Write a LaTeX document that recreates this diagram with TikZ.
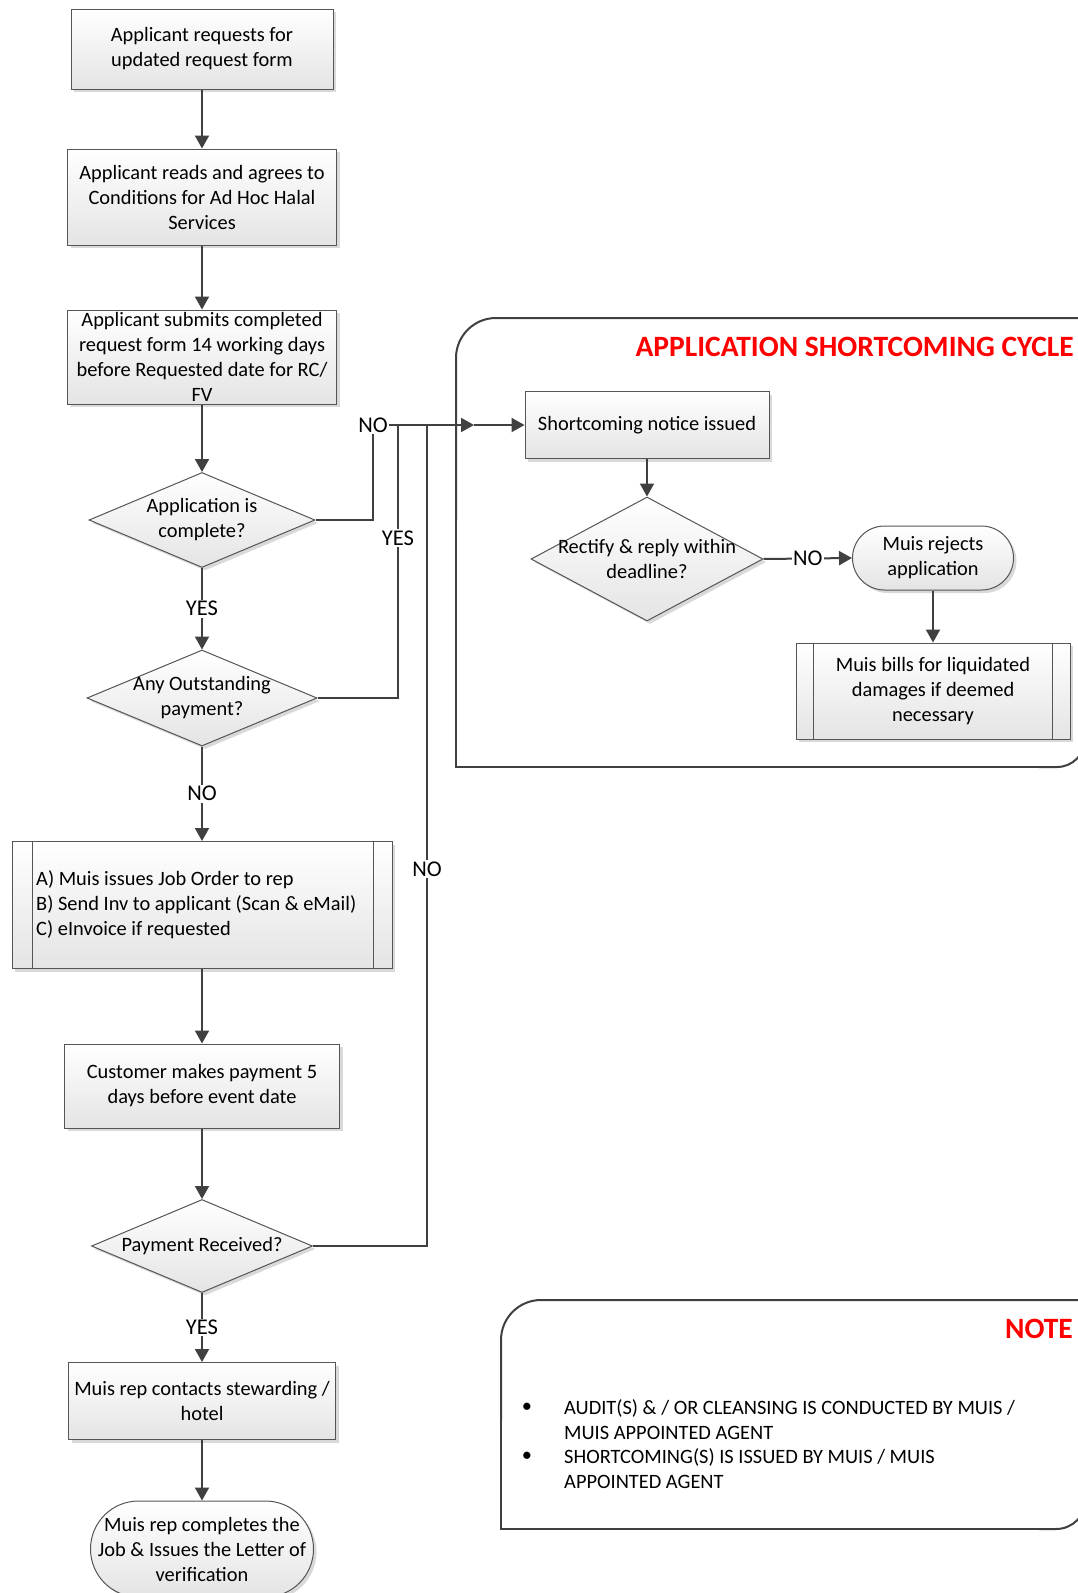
\documentclass[tikz,border=0pt]{standalone}
\usepackage{fontspec}
\setmainfont{Carlito}
\usetikzlibrary{shapes.geometric,shapes.misc,arrows.meta,shadows}
\definecolor{ln}{HTML}{404040}
\definecolor{bd}{HTML}{555555}
\definecolor{fillbot}{HTML}{E4E4E4}
\begin{document}
\begin{tikzpicture}[x=1pt,y=-1pt,
  every node/.style={font=\fontsize{20.4}{25}\selectfont, text=black},
  boxfill/.style={top color=white, bottom color=fillbot, draw=bd, line width=1pt,
     drop shadow={shadow xshift=3pt, shadow yshift=-3pt, fill=black, opacity=0.15}},
  proc/.style={boxfill, rectangle, inner sep=0pt, align=center},
  dia/.style={boxfill, diamond, inner sep=0pt},
  term/.style={boxfill, rounded rectangle, inner sep=0pt},
  flow/.style={draw=ln, line width=2pt, -{Triangle[length=13pt,width=14pt]}},
  conn/.style={draw=ln, line width=2pt},
  lbl/.style={fill=white, inner sep=1.5pt, font=\fontsize{22.5}{26}\selectfont},
  cframe/.style={draw=ln, line width=2pt},
  pline/.style={draw=bd, line width=1pt},
  ttl/.style={font=\fontsize{29.5}{33}\selectfont\bfseries, text=red, inner sep=0pt, anchor=east}
]
\useasboundingbox[fill=white] (0,0) rectangle (1077,1593);

% containers
\draw[cframe, rounded corners=40pt] (1100,318) -- (456,318) -- (456,520);
\draw[cframe] (456,519) -- (456,767) -- (1040,767);
\draw[cframe, rounded corners=28pt] (1039,767) -- (1085,767) -- (1085,600);

\draw[cframe, rounded corners=40pt] (1100,1300) -- (501,1300) -- (501,1420);
\draw[cframe] (501,1419) -- (501,1529) -- (1040,1529);
\draw[cframe, rounded corners=30pt] (1039,1529) -- (1086,1529) -- (1086,1400);

\node[ttl] (title) at (1074,347) {APPLICATION SHORTCOMING CYCLE};
\node[ttl] (notettl) at (1073,1329) {NOTE};

% main column
\node[proc, minimum width=262pt, minimum height=80pt] (b1) at (202,49)
  {Applicant requests for\\updated request form};
\node[proc, minimum width=269pt, minimum height=96pt] (b2) at (202,197)
  {Applicant reads and agrees to\\Conditions for Ad Hoc Halal\\Services};
\node[proc, minimum width=269pt, minimum height=94pt] (b3) at (202,357)
  {Applicant submits completed\\request form 14 working days\\before Requested date for RC/\\FV};
\node[dia, minimum width=226pt, minimum height=95pt,
  label={[name=d1t, align=center]center:{Application is\\complete?}}] (d1) at (202,520) {};
\node[dia, minimum width=230pt, minimum height=96pt,
  label={[name=d2t, align=center]center:{Any Outstanding\\payment?}}] (d2) at (202,698) {};
\node[proc, minimum width=380pt, minimum height=127pt] (b4) at (202,905) {};
\node[anchor=west, align=left, inner sep=0pt] (b4t) at (36,905)
  {A) Muis issues Job Order to rep\\B) Send Inv to applicant (Scan \& eMail)\\C) eInvoice if requested};
\draw[pline] ([xshift=20.5pt]b4.north west) -- ([xshift=20.5pt]b4.south west);
\draw[pline] ([xshift=-19pt]b4.north east) -- ([xshift=-19pt]b4.south east);
\node[proc, minimum width=275pt, minimum height=84pt] (b5) at (202,1086)
  {Customer makes payment 5\\days before event date};
\node[dia, minimum width=221pt, minimum height=93pt,
  label={[name=d3t]center:{Payment Received?}}] (d3) at (202,1246) {};
\node[proc, minimum width=267pt, minimum height=77pt] (b6) at (202,1401)
  {Muis rep contacts stewarding /\\hotel};
\node[term, minimum width=223pt, minimum height=96pt,
  label={[name=tt, align=center]center:{Muis rep completes the\\Job \& Issues the Letter of\\verification}}] (t1) at (202,1549) {};

% shortcoming cycle
\node[proc, minimum width=244pt, minimum height=67pt] (sc) at (647,425) {Shortcoming notice issued};
\node[dia, minimum width=232pt, minimum height=124pt,
  label={[name=rt, align=center]center:{Rectify \& reply within\\deadline?}}] (rect) at (647,559) {};
\node[term, minimum width=161pt, minimum height=64pt,
  label={[name=rjt, align=center]center:{Muis rejects\\application}}] (rej) at (933,558) {};
\node[proc, minimum width=274pt, minimum height=96pt] (bills) at (933,691)
  {Muis bills for liquidated\\damages if deemed\\necessary};
\draw[pline] ([xshift=18pt]bills.north west) -- ([xshift=18pt]bills.south west);
\draw[pline] ([xshift=-18pt]bills.north east) -- ([xshift=-18pt]bills.south east);

% main flow
\draw[flow] (b1) -- (b2);
\draw[flow] (b2) -- (b3);
\draw[flow] (b3) -- (d1);
\draw[flow] (d1) -- node[lbl] (yes1) {YES} (d2);
\draw[flow] (d2) -- node[lbl] (no2) {NO} (b4);
\draw[flow] (b4) -- (b5);
\draw[flow] (b5) -- (d3);
\draw[flow] (d3) -- node[lbl] (yes3) {YES} (b6);
\draw[flow] (b6) -- (t1);

% side connectors
\coordinate (c1) at (373,425);
\coordinate (j2) at (398,425);
\coordinate (j3) at (427,425);
\coordinate (entry) at (474,425);
\draw[conn] (d3.east) -| (j3);
\draw[conn] (d2.east) -| (j2);
\draw[conn] (d1.east) -| (c1);
\draw[flow] (c1) -- (entry);
\draw[flow] (entry) -- (sc.west);
\node[lbl] (no1) at (c1) {NO};
\node[lbl] (yes2) at (398,538) {YES};
\node[lbl] (no3) at (427,869) {NO};

\draw[flow] (sc) -- (rect);
\draw[flow] (rect.east) -- node[lbl] (no4) {NO} (rej.west);
\draw[flow] (rej) -- (bills);

% note
\node (bul1) at (527,1408) {•};
\node (bul2) at (527,1457) {•};
\node[anchor=west, align=left, inner sep=0pt] (n1) at (564,1420)
  {AUDIT(S) \& / OR CLEANSING IS CONDUCTED BY MUIS /\\MUIS APPOINTED AGENT};
\node[anchor=west, align=left, inner sep=0pt] (n2) at (564,1469)
  {SHORTCOMING(S) IS ISSUED BY MUIS / MUIS\\APPOINTED AGENT};
\end{tikzpicture}
\end{document}
